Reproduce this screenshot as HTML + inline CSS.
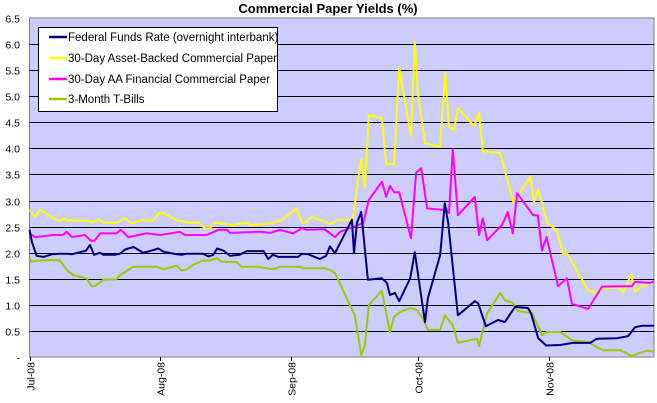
<!DOCTYPE html>
<html><head><meta charset="utf-8"><style>
body{margin:0;background:#fff;}
svg{display:block;font-family:"Liberation Sans",sans-serif;}
</style></head><body>
<svg width="657" height="403" id="chart">
<rect x="0" y="0" width="657" height="403" fill="#fff"/>
<text x="328" y="13" text-anchor="middle" font-size="13" font-weight="bold">Commercial Paper Yields (%)</text>
<rect x="29.5" y="18" width="624.5" height="339" fill="#ccccff" stroke="#808080"/>
<g id="grid"></g><g id="series"></g><g id="axes"></g>
<g>
<rect x="38.5" y="27.5" width="239" height="84" fill="#fff" stroke="#000"/>
<line x1="49" y1="37" x2="67" y2="37" stroke="#000080" stroke-width="2.5"/>
<text x="68" y="41" font-size="11.5">Federal Funds Rate (overnight interbank)</text>
<line x1="49" y1="58" x2="67" y2="58" stroke="#ffff00" stroke-width="2.5"/>
<text x="68" y="62" font-size="11.5">30-Day Asset-Backed Commercial Paper</text>
<line x1="49" y1="79" x2="67" y2="79" stroke="#ff00ff" stroke-width="2.5"/>
<text x="68" y="83" font-size="11.5">30-Day AA Financial Commercial Paper</text>
<line x1="49" y1="99" x2="67" y2="99" stroke="#99cc00" stroke-width="2.5"/>
<text x="68" y="103" font-size="11.5">3-Month T-Bills</text>
</g>
</svg>
<script>
const yTickValues=[0,0.5,1,1.5,2,2.5,3,3.5,4,4.5,5,5.5,6,6.5];
const yTickLabels=["-","0.5","1.0","1.5","2.0","2.5","3.0","3.5","4.0","4.5","5.0","5.5","6.0","6.5"];
const xTickDays=[0,31,62,92,123];
const xTickLabels=["Jul-08","Aug-08","Sep-08","Oct-08","Nov-08"];
// days since Jul 1 2008
const abcpDays=[0,1.3,2.5,6.8,8.4,8.8,13.6,14.7,16.3,17.5,20.7,22.6,24.2,26.2,29.3,30.7,31.7,34.9,37.5,39.9,41.5,42.7,43.9,48.2,51.4,52.2,56.2,57.7,59.7,63.2,64.5,65.4,66.8,71.1,73.0,76.5,78.5,79.4,80.3,83.4,84.4,86.3,87.5,90.3,91.2,91.9,93.6,97.2,98.4,99.3,100.5,101.4,105.2,106.4,107.3,111.4,114.5,118.5,119.4,120.4,122.5,124.8,126.3,127.3,132.2,133.8,135.2,139.7,140.5,142.4,143.3,144.5,146.8,147.8];
const abcpValues=[2.82,2.69,2.82,2.61,2.66,2.62,2.62,2.58,2.64,2.58,2.58,2.66,2.56,2.62,2.62,2.76,2.76,2.62,2.58,2.58,2.47,2.47,2.58,2.53,2.58,2.53,2.55,2.58,2.62,2.85,2.58,2.58,2.69,2.55,2.63,2.63,3.80,3.24,4.64,4.58,3.70,3.70,5.54,4.24,6.04,5.08,4.10,4.03,5.45,4.41,4.35,4.77,4.43,4.68,3.95,3.91,2.97,3.45,2.97,3.22,2.57,2.43,1.98,1.98,1.28,1.23,1.32,1.33,1.23,1.59,1.25,1.33,1.42,1.45];
const aaDays=[0,1.3,5.6,7.9,8.8,10,13.1,14.5,15.4,16.7,20.6,21.6,23.4,27.7,30.9,35.6,36.8,42,44.7,46.7,47.5,54.6,57,59.3,62.4,64.5,65.6,69.9,71.1,72.3,73.5,79,80.3,83.4,84.4,85.3,86.3,87.5,90.3,91.5,92.7,94.1,97.9,98.6,99.3,100.2,101.4,105.4,106.4,107.3,108.3,111.8,113.2,114.4,115.4,119.2,120.3,121.3,122.4,125.1,127.2,128.4,132.2,135.5,142.6,143.3,146.8,147.8];
const aaValues=[2.37,2.30,2.34,2.34,2.40,2.30,2.34,2.23,2.23,2.37,2.37,2.44,2.30,2.37,2.34,2.40,2.34,2.34,2.44,2.44,2.38,2.40,2.38,2.44,2.37,2.47,2.44,2.45,2.37,2.30,2.40,2.57,3.01,3.36,3.07,3.28,3.16,3.16,2.28,3.53,3.62,2.85,2.82,2.85,2.76,3.98,2.72,3.07,2.34,2.66,2.24,2.53,2.78,2.37,3.14,2.72,2.72,2.04,2.30,1.36,1.51,1.02,0.92,1.35,1.36,1.44,1.42,1.45];
const ffDays=[0,0.6,1.7,3.3,5.3,7.2,8.8,10,11.9,13.4,14.3,15.3,16.7,17.5,20.2,21.4,22.6,24.6,26.9,28.5,30.5,31.7,34.9,36,37.2,41.1,42.3,43.5,44.4,45.9,47.5,49.7,51.4,55.4,56.5,57.6,58.9,63.6,64.5,66,68.7,70.2,71.1,72.3,76.3,76.8,77.5,78.5,80.1,83.4,84.6,85.3,86.5,87.5,90.1,91.2,91.9,93.6,94.3,97.2,98.3,99.1,101.4,105.4,106.2,108,110.9,112.5,114.9,118,118.7,120.4,122.3,125.6,128.6,132.7,134.3,139.1,141.7,143.3,145,147.8];
const ffValues=[2.44,2.2,1.94,1.92,1.97,1.98,1.98,1.97,2.01,2.04,2.15,1.96,2.0,1.96,1.96,1.98,2.06,2.11,2.0,2.03,2.08,2.02,1.97,1.96,1.98,1.98,1.93,1.96,2.08,2.04,1.94,1.96,2.03,2.03,1.88,1.96,1.92,1.92,1.98,1.97,1.88,1.94,2.12,1.99,2.63,1.99,2.57,2.78,1.48,1.51,1.42,1.19,1.23,1.07,1.51,2.01,1.61,0.67,1.13,1.96,2.95,2.57,0.80,1.07,1.03,0.59,0.71,0.67,0.96,0.94,0.84,0.36,0.22,0.23,0.27,0.27,0.35,0.36,0.40,0.57,0.60,0.60];
const tbDays=[0,0.4,2.5,6.4,7.2,8.8,10.4,13.5,14.7,15.5,17.5,20.6,21.4,23.4,24.6,30.1,31.7,34.8,36,37.2,38.8,41.1,42.7,44.3,45.5,49,50.2,54.2,57.7,59.3,64,64.8,69.9,71.1,72.3,74.2,77.0,78.5,79.4,80.3,83.4,85.3,86.3,87.7,90.1,91.7,92.9,94.3,97.2,98.3,100.2,101.4,105.9,106.4,108.3,111.4,112.5,114.4,115.6,118.9,121.3,122.5,125.6,127.7,128.6,132.2,134.3,135.7,139.8,142.6,144.1,146.4,147.8];
const tbValues=[1.89,1.83,1.85,1.86,1.85,1.67,1.57,1.51,1.36,1.36,1.48,1.49,1.57,1.67,1.73,1.73,1.68,1.75,1.66,1.68,1.77,1.85,1.85,1.89,1.83,1.82,1.73,1.73,1.68,1.73,1.73,1.70,1.70,1.67,1.61,1.28,0.80,0.04,0.23,1.0,1.27,0.48,0.77,0.86,0.94,0.90,0.77,0.52,0.52,0.80,0.61,0.27,0.35,0.21,0.84,1.23,1.09,1.04,0.88,0.84,0.42,0.48,0.48,0.36,0.31,0.29,0.19,0.13,0.13,0.02,0.07,0.12,0.10];

const NS="http://www.w3.org/2000/svg";
const x0=29.5,pxPerDay=4.225,yBase=357,pxPerUnit=52.15;
function xScale(d){return x0+d*pxPerDay;}
function yScale(v){return yBase-v*pxPerUnit;}
const grid=document.getElementById('grid'),axes=document.getElementById('axes'),series=document.getElementById('series');
yTickValues.forEach((v,i)=>{
  const y=Math.round(yScale(v))+0.5;
  if(v>0&&v<6.5){
    const l=document.createElementNS(NS,'line');
    l.setAttribute('x1',x0);l.setAttribute('x2',654);l.setAttribute('y1',y);l.setAttribute('y2',y);
    l.setAttribute('stroke','#000');
    
    
    grid.appendChild(l);
  }
  const t=document.createElementNS(NS,'text');
  t.setAttribute('x',20);t.setAttribute('y',y+4);t.setAttribute('text-anchor','end');t.setAttribute('font-size','10.5');
  t.textContent=yTickLabels[i];
  
  
  axes.appendChild(t);
});
xTickDays.forEach((d,i)=>{
  const x=Math.round(xScale(d))+0.5;
  const l=document.createElementNS(NS,'line');
  l.setAttribute('x1',x);l.setAttribute('x2',x);l.setAttribute('y1',357);l.setAttribute('y2',361);l.setAttribute('stroke','#000');
  
  
  axes.appendChild(l);
  const t=document.createElementNS(NS,'text');
  t.setAttribute('transform','translate('+(x+4)+',362) rotate(-90)');
  t.setAttribute('text-anchor','end');t.setAttribute('font-size','10.5');
  t.textContent=xTickLabels[i];
  
  
  axes.appendChild(t);
});
function drawLine(days,vals,color,name){
  const p=document.createElementNS(NS,'polyline');
  p.setAttribute('points',days.map((d,i)=>xScale(d).toFixed(1)+','+yScale(vals[i]).toFixed(1)).join(' '));
  p.setAttribute('fill','none');p.setAttribute('stroke',color);p.setAttribute('stroke-width','2');p.setAttribute('stroke-linejoin','round');
  
  
  series.appendChild(p);
}
drawLine(tbDays,tbValues,'#99cc00','series-tbills');
drawLine(abcpDays,abcpValues,'#ffff00','series-abcp');
drawLine(aaDays,aaValues,'#ff00ff','series-aa-financial');
drawLine(ffDays,ffValues,'#000080','series-fed-funds');
</script>
</body></html>
